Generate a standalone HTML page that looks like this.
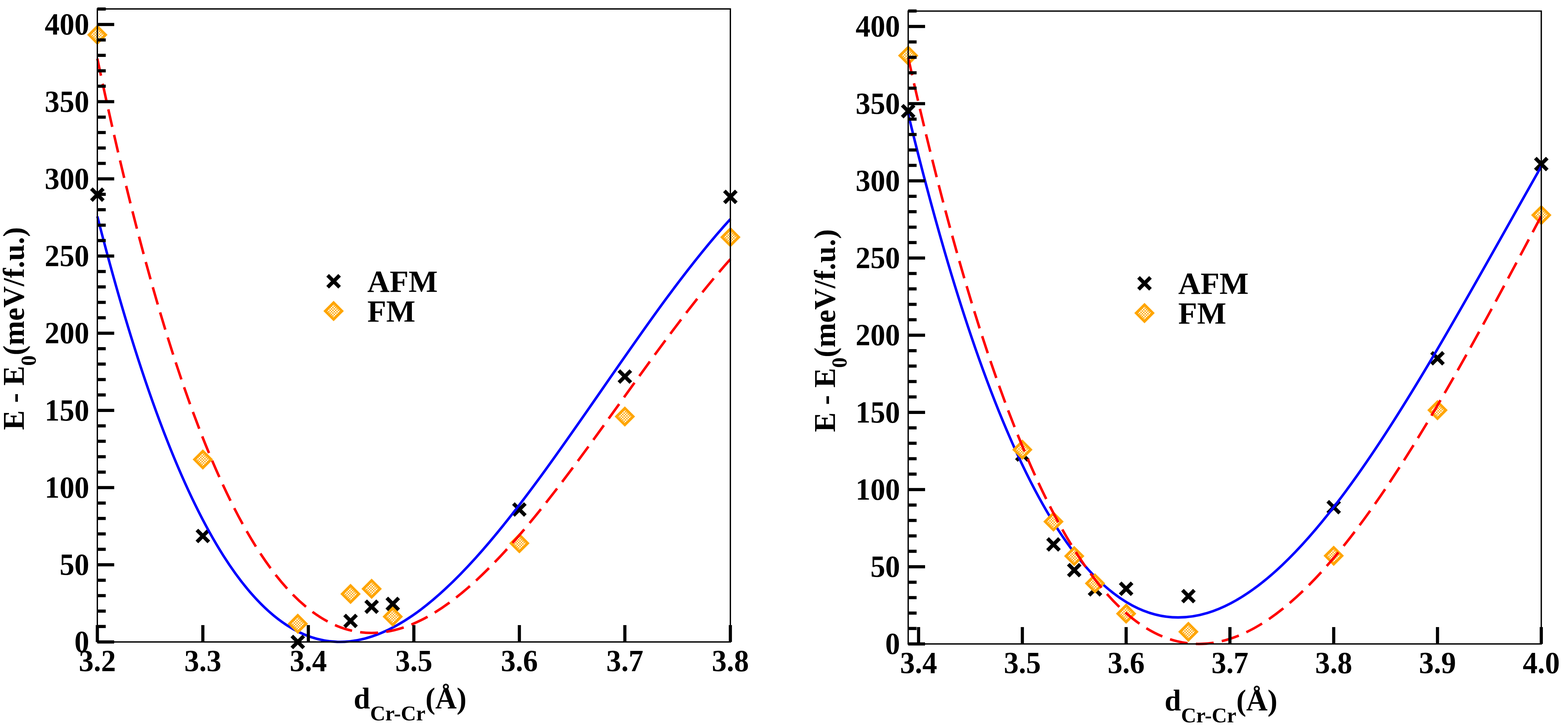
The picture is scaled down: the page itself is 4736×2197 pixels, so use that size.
<!DOCTYPE html>
<html lang="en"><head><meta charset="utf-8"><title>E - E0 vs dCr-Cr</title>
<style>html,body{margin:0;padding:0;background:#fff;width:4736px;height:2197px;overflow:hidden}svg{display:block}</style></head><body>
<svg width="4736" height="2197" viewBox="0 0 4736 2197">
<defs><pattern id="chk" x="0" y="0" width="8.24" height="8.24" patternUnits="userSpaceOnUse"><rect width="8.24" height="8.24" fill="#fff"/><rect x="0" y="0" width="4.12" height="4.12" fill="#ffa500"/><rect x="4.12" y="4.12" width="4.12" height="4.12" fill="#ffa500"/></pattern></defs>
<rect width="4736" height="2197" fill="#fff"/>
<g>
<g stroke="#000" stroke-width="11.30" fill="none"><path d="M276.00 570.20L312.00 606.20M276.00 606.20L312.00 570.20"/><path d="M594.67 1601.70L630.67 1637.70M594.67 1637.70L630.67 1601.70"/><path d="M881.47 1922.00L917.47 1958.00M881.47 1958.00L917.47 1922.00"/><path d="M1040.80 1858.50L1076.80 1894.50M1040.80 1894.50L1076.80 1858.50"/><path d="M1104.50 1815.60L1140.50 1851.60M1104.50 1851.60L1140.50 1815.60"/><path d="M1168.30 1807.05L1204.30 1843.05M1168.30 1843.05L1204.30 1807.05"/><path d="M1550.70 1521.80L1586.70 1557.80M1550.70 1557.80L1586.70 1521.80"/><path d="M1869.30 1120.00L1905.30 1156.00M1869.30 1156.00L1905.30 1120.00"/><path d="M2188.00 577.00L2224.00 613.00M2188.00 613.00L2224.00 577.00"/></g>
<path d="M294.00 653.88 C931.33 3154.13 1568.67 1360.40 2206.00 662.17" stroke="#00f" stroke-width="7.60" fill="none"/>
<g stroke="#ffa500" stroke-width="7.64" fill="url(#chk)" stroke-linejoin="miter"><path transform="translate(294.00 105.20)" d="M0 -25.40L25.40 0L0 25.40L-25.40 0Z"/><path transform="translate(612.67 1388.60)" d="M0 -25.40L25.40 0L0 25.40L-25.40 0Z"/><path transform="translate(899.47 1884.90)" d="M0 -25.40L25.40 0L0 25.40L-25.40 0Z"/><path transform="translate(1058.80 1794.90)" d="M0 -25.40L25.40 0L0 25.40L-25.40 0Z"/><path transform="translate(1122.50 1779.40)" d="M0 -25.40L25.40 0L0 25.40L-25.40 0Z"/><path transform="translate(1186.30 1863.40)" d="M0 -25.40L25.40 0L0 25.40L-25.40 0Z"/><path transform="translate(1568.70 1641.70)" d="M0 -25.40L25.40 0L0 25.40L-25.40 0Z"/><path transform="translate(1887.30 1258.80)" d="M0 -25.40L25.40 0L0 25.40L-25.40 0Z"/><path transform="translate(2206.00 716.70)" d="M0 -25.40L25.40 0L0 25.40L-25.40 0Z"/></g>
<path d="M294.00 177.11 C931.33 3205.93 1568.67 1498.87 2206.00 783.20" stroke="#f00" stroke-width="7.60" fill="none" stroke-dasharray="54.30 24.87" stroke-dashoffset="1.60"/>
<rect x="294.00" y="27.00" width="1912.00" height="1913.00" fill="none" stroke="#000" stroke-width="4.00"/>
<path d="M294.00 1940.00h51.00M294.00 1893.35h25.40M294.00 1846.70h25.40M294.00 1800.05h25.40M294.00 1753.40h25.40M294.00 1706.75h51.00M294.00 1660.10h25.40M294.00 1613.45h25.40M294.00 1566.80h25.40M294.00 1520.15h25.40M294.00 1473.50h51.00M294.00 1426.85h25.40M294.00 1380.20h25.40M294.00 1333.55h25.40M294.00 1286.90h25.40M294.00 1240.25h51.00M294.00 1193.60h25.40M294.00 1146.95h25.40M294.00 1100.30h25.40M294.00 1053.65h25.40M294.00 1007.00h51.00M294.00 960.35h25.40M294.00 913.70h25.40M294.00 867.05h25.40M294.00 820.40h25.40M294.00 773.75h51.00M294.00 727.10h25.40M294.00 680.45h25.40M294.00 633.80h25.40M294.00 587.15h25.40M294.00 540.50h51.00M294.00 493.85h25.40M294.00 447.20h25.40M294.00 400.55h25.40M294.00 353.90h25.40M294.00 307.25h51.00M294.00 260.60h25.40M294.00 213.95h25.40M294.00 167.30h25.40M294.00 120.65h25.40M294.00 74.00h51.00M294.00 27.35h25.40M294.00 1940.00v-51.00M612.67 1940.00v-51.00M931.33 1940.00v-51.00M1250.00 1940.00v-51.00M1568.67 1940.00v-51.00M1887.33 1940.00v-51.00M2206.00 1940.00v-51.00" stroke="#000" stroke-width="9.50" fill="none"/>
<g font-family="'Liberation Serif',serif" font-weight="bold" fill="#000">
<text transform="translate(269.50 1970.40) scale(1 1.0270)" font-size="89.60" text-anchor="end">0</text>
<text transform="translate(269.50 1737.15) scale(1 1.0270)" font-size="89.60" text-anchor="end">50</text>
<text transform="translate(269.50 1503.90) scale(1 1.0270)" font-size="89.60" text-anchor="end">100</text>
<text transform="translate(269.50 1270.65) scale(1 1.0270)" font-size="89.60" text-anchor="end">150</text>
<text transform="translate(269.50 1037.40) scale(1 1.0270)" font-size="89.60" text-anchor="end">200</text>
<text transform="translate(269.50 804.15) scale(1 1.0270)" font-size="89.60" text-anchor="end">250</text>
<text transform="translate(269.50 570.90) scale(1 1.0270)" font-size="89.60" text-anchor="end">300</text>
<text transform="translate(269.50 337.65) scale(1 1.0270)" font-size="89.60" text-anchor="end">350</text>
<text transform="translate(269.50 104.40) scale(1 1.0270)" font-size="89.60" text-anchor="end">400</text>
<text transform="translate(294.00 2028.20) scale(1 1.0270)" font-size="89.60" text-anchor="middle">3.2</text>
<text transform="translate(612.67 2028.20) scale(1 1.0270)" font-size="89.60" text-anchor="middle">3.3</text>
<text transform="translate(931.33 2028.20) scale(1 1.0270)" font-size="89.60" text-anchor="middle">3.4</text>
<text transform="translate(1250.00 2028.20) scale(1 1.0270)" font-size="89.60" text-anchor="middle">3.5</text>
<text transform="translate(1568.67 2028.20) scale(1 1.0270)" font-size="89.60" text-anchor="middle">3.6</text>
<text transform="translate(1887.33 2028.20) scale(1 1.0270)" font-size="89.60" text-anchor="middle">3.7</text>
<text transform="translate(2206.00 2028.20) scale(1 1.0270)" font-size="89.60" text-anchor="middle">3.8</text>
<text transform="translate(1068.20 2141.20) scale(1 1.0100)" font-size="89.50" text-anchor="start">d<tspan font-size="63.54" dy="35.45">Cr-Cr</tspan><tspan dy="-35.45">(Å)</tspan></text>
<text transform="translate(72.40 1299.50) rotate(-90) scale(1 1.0200)" font-size="89.50" text-anchor="start">E - E<tspan font-size="63.54" dy="35.10">0</tspan><tspan dy="-35.10">(meV/f.u.)</tspan></text>
<text transform="translate(1109.60 881.80)" font-size="93.30" text-anchor="start">AFM</text>
<text transform="translate(1109.60 971.50)" font-size="93.30" text-anchor="start">FM</text>
</g>
<g stroke="#000" stroke-width="11.30" fill="none"><path d="M989.65 832.00L1025.65 868.00M989.65 868.00L1025.65 832.00"/></g>
<g stroke="#ffa500" stroke-width="7.64" fill="url(#chk)"><path transform="translate(1007.65 939.90)" d="M0 -25.40L25.40 0L0 25.40L-25.40 0Z"/></g>
</g>
<g>
<g stroke="#000" stroke-width="11.30" fill="none"><path d="M2725.10 318.00L2761.10 354.00M2725.10 354.00L2761.10 318.00"/><path d="M3069.92 1355.60L3105.92 1391.60M3069.92 1391.60L3105.92 1355.60"/><path d="M3163.96 1627.20L3199.96 1663.20M3163.96 1663.20L3199.96 1627.20"/><path d="M3226.66 1705.10L3262.66 1741.10M3226.66 1741.10L3262.66 1705.10"/><path d="M3289.35 1763.10L3325.35 1799.10M3289.35 1799.10L3325.35 1763.10"/><path d="M3383.40 1761.30L3419.40 1797.30M3383.40 1797.30L3419.40 1761.30"/><path d="M3571.48 1783.40L3607.48 1819.40M3571.48 1819.40L3607.48 1783.40"/><path d="M4010.35 1514.70L4046.35 1550.70M4010.35 1550.70L4046.35 1514.70"/><path d="M4323.82 1064.70L4359.82 1100.70M4323.82 1100.70L4359.82 1064.70"/><path d="M4637.30 477.80L4673.30 513.80M4637.30 513.80L4673.30 477.80"/></g>
<path d="M2743.10 344.49 C3380.50 2978.14 4017.90 1625.34 4655.30 502.78" stroke="#00f" stroke-width="7.60" fill="none"/>
<g stroke="#ffa500" stroke-width="7.64" fill="url(#chk)" stroke-linejoin="miter"><path transform="translate(2743.10 168.00)" d="M0 -25.40L25.40 0L0 25.40L-25.40 0Z"/><path transform="translate(3087.92 1358.90)" d="M0 -25.40L25.40 0L0 25.40L-25.40 0Z"/><path transform="translate(3181.96 1576.20)" d="M0 -25.40L25.40 0L0 25.40L-25.40 0Z"/><path transform="translate(3244.66 1680.50)" d="M0 -25.40L25.40 0L0 25.40L-25.40 0Z"/><path transform="translate(3307.35 1763.00)" d="M0 -25.40L25.40 0L0 25.40L-25.40 0Z"/><path transform="translate(3401.40 1854.40)" d="M0 -25.40L25.40 0L0 25.40L-25.40 0Z"/><path transform="translate(3589.48 1909.30)" d="M0 -25.40L25.40 0L0 25.40L-25.40 0Z"/><path transform="translate(4028.35 1679.60)" d="M0 -25.40L25.40 0L0 25.40L-25.40 0Z"/><path transform="translate(4341.82 1239.60)" d="M0 -25.40L25.40 0L0 25.40L-25.40 0Z"/><path transform="translate(4655.30 650.00)" d="M0 -25.40L25.40 0L0 25.40L-25.40 0Z"/></g>
<path d="M2743.10 174.36 C3380.50 3026.40 4017.90 1858.65 4655.30 652.44" stroke="#f00" stroke-width="7.60" fill="none" stroke-dasharray="54.30 24.87" stroke-dashoffset="0.00"/>
<rect x="2743.10" y="33.50" width="1912.20" height="1912.50" fill="none" stroke="#000" stroke-width="4.00"/>
<path d="M2743.10 1946.00h51.00M2743.10 1899.35h25.40M2743.10 1852.70h25.40M2743.10 1806.05h25.40M2743.10 1759.40h25.40M2743.10 1712.75h51.00M2743.10 1666.10h25.40M2743.10 1619.45h25.40M2743.10 1572.80h25.40M2743.10 1526.15h25.40M2743.10 1479.50h51.00M2743.10 1432.85h25.40M2743.10 1386.20h25.40M2743.10 1339.55h25.40M2743.10 1292.90h25.40M2743.10 1246.25h51.00M2743.10 1199.60h25.40M2743.10 1152.95h25.40M2743.10 1106.30h25.40M2743.10 1059.65h25.40M2743.10 1013.00h51.00M2743.10 966.35h25.40M2743.10 919.70h25.40M2743.10 873.05h25.40M2743.10 826.40h25.40M2743.10 779.75h51.00M2743.10 733.10h25.40M2743.10 686.45h25.40M2743.10 639.80h25.40M2743.10 593.15h25.40M2743.10 546.50h51.00M2743.10 499.85h25.40M2743.10 453.20h25.40M2743.10 406.55h25.40M2743.10 359.90h25.40M2743.10 313.25h51.00M2743.10 266.60h25.40M2743.10 219.95h25.40M2743.10 173.30h25.40M2743.10 126.65h25.40M2743.10 80.00h51.00M2743.10 33.35h25.40M2774.45 1946.00v-51.00M3087.92 1946.00v-51.00M3401.40 1946.00v-51.00M3714.87 1946.00v-51.00M4028.35 1946.00v-51.00M4341.82 1946.00v-51.00M4655.30 1946.00v-51.00" stroke="#000" stroke-width="9.50" fill="none"/>
<g font-family="'Liberation Serif',serif" font-weight="bold" fill="#000">
<text transform="translate(2718.60 1976.40) scale(1 1.0270)" font-size="89.60" text-anchor="end">0</text>
<text transform="translate(2718.60 1743.15) scale(1 1.0270)" font-size="89.60" text-anchor="end">50</text>
<text transform="translate(2718.60 1509.90) scale(1 1.0270)" font-size="89.60" text-anchor="end">100</text>
<text transform="translate(2718.60 1276.65) scale(1 1.0270)" font-size="89.60" text-anchor="end">150</text>
<text transform="translate(2718.60 1043.40) scale(1 1.0270)" font-size="89.60" text-anchor="end">200</text>
<text transform="translate(2718.60 810.15) scale(1 1.0270)" font-size="89.60" text-anchor="end">250</text>
<text transform="translate(2718.60 576.90) scale(1 1.0270)" font-size="89.60" text-anchor="end">300</text>
<text transform="translate(2718.60 343.65) scale(1 1.0270)" font-size="89.60" text-anchor="end">350</text>
<text transform="translate(2718.60 110.40) scale(1 1.0270)" font-size="89.60" text-anchor="end">400</text>
<text transform="translate(2774.45 2034.40) scale(1 1.0270)" font-size="89.60" text-anchor="middle">3.4</text>
<text transform="translate(3087.92 2034.40) scale(1 1.0270)" font-size="89.60" text-anchor="middle">3.5</text>
<text transform="translate(3401.40 2034.40) scale(1 1.0270)" font-size="89.60" text-anchor="middle">3.6</text>
<text transform="translate(3714.87 2034.40) scale(1 1.0270)" font-size="89.60" text-anchor="middle">3.7</text>
<text transform="translate(4028.35 2034.40) scale(1 1.0270)" font-size="89.60" text-anchor="middle">3.8</text>
<text transform="translate(4341.82 2034.40) scale(1 1.0270)" font-size="89.60" text-anchor="middle">3.9</text>
<text transform="translate(4655.30 2034.40) scale(1 1.0270)" font-size="89.60" text-anchor="middle">4.0</text>
<text transform="translate(3517.40 2147.40) scale(1 1.0100)" font-size="89.50" text-anchor="start">d<tspan font-size="63.54" dy="35.45">Cr-Cr</tspan><tspan dy="-35.45">(Å)</tspan></text>
<text transform="translate(2521.60 1305.70) rotate(-90) scale(1 1.0200)" font-size="89.50" text-anchor="start">E - E<tspan font-size="63.54" dy="35.10">0</tspan><tspan dy="-35.10">(meV/f.u.)</tspan></text>
<text transform="translate(3558.80 888.00)" font-size="93.30" text-anchor="start">AFM</text>
<text transform="translate(3558.80 977.70)" font-size="93.30" text-anchor="start">FM</text>
</g>
<g stroke="#000" stroke-width="11.30" fill="none"><path d="M3438.85 838.20L3474.85 874.20M3438.85 874.20L3474.85 838.20"/></g>
<g stroke="#ffa500" stroke-width="7.64" fill="url(#chk)"><path transform="translate(3456.85 946.10)" d="M0 -25.40L25.40 0L0 25.40L-25.40 0Z"/></g>
</g>
</svg></body></html>
